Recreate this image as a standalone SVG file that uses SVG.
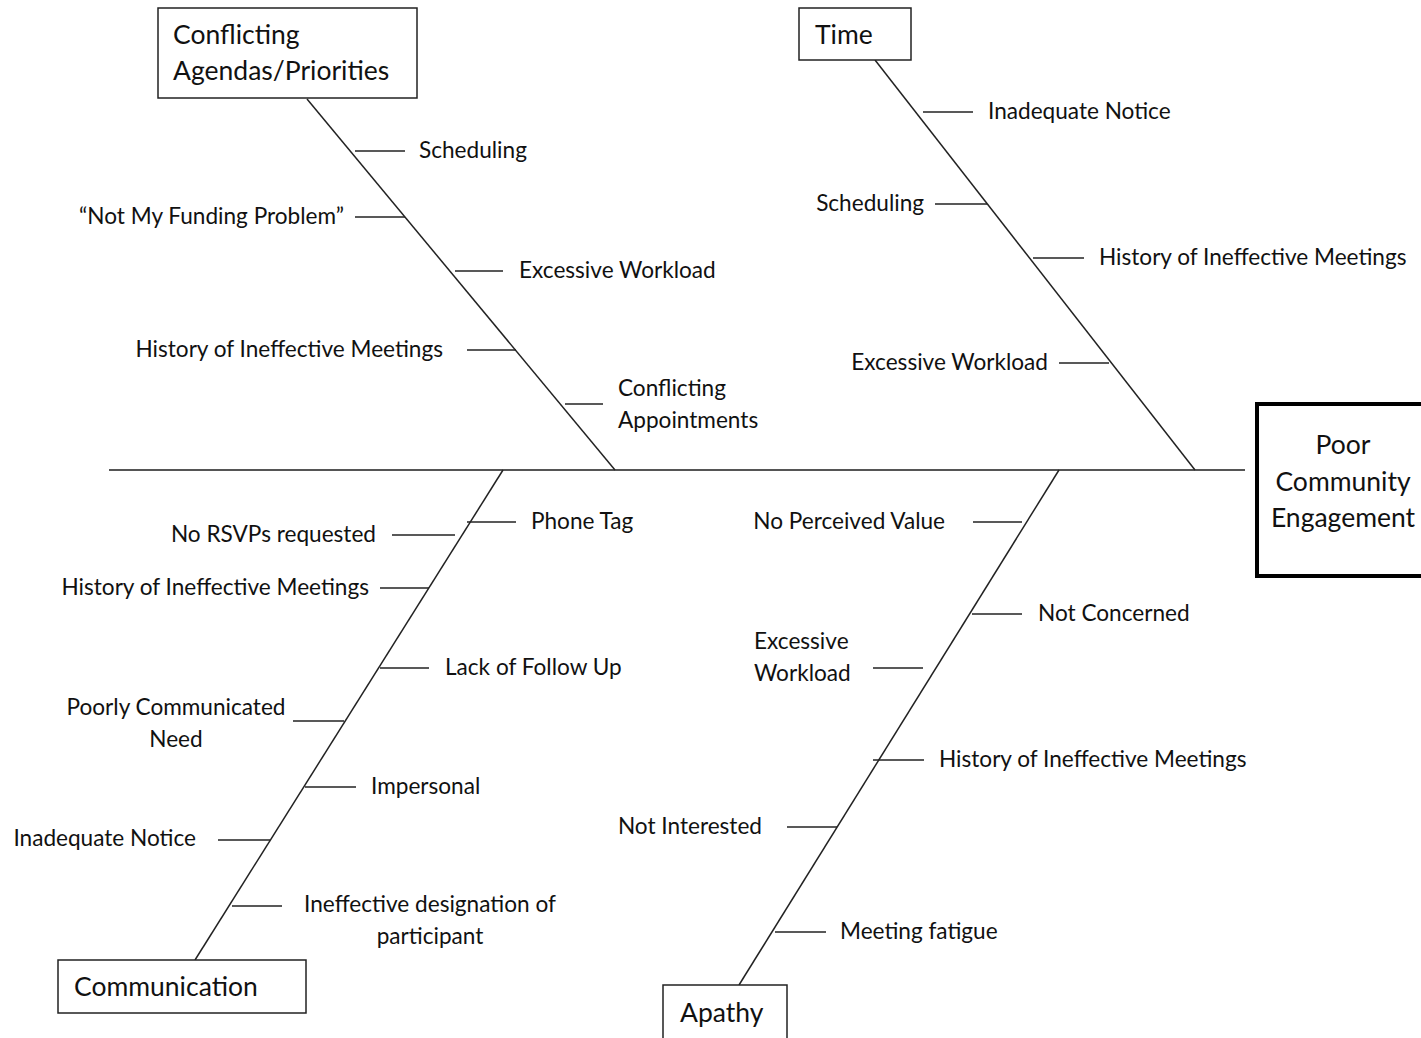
<svg xmlns="http://www.w3.org/2000/svg" width="1421" height="1038" viewBox="0 0 1421 1038">
<style>
.lbl{font-family:Lato,"Open Sans","Liberation Sans",sans-serif;font-size:22.6px;fill:#111;}
.ttl{font-family:Lato,"Open Sans","Liberation Sans",sans-serif;font-size:26.5px;fill:#111;}
.end{text-anchor:end;}
.mid{text-anchor:middle;}
.box{fill:#fff;stroke:#222;stroke-width:1.5;}
.bone{stroke:#222;stroke-width:1.5;fill:none;}
.spine{stroke:#555;stroke-width:2;fill:none;}
</style>
<rect width="1421" height="1038" fill="#fff"/>
<g id="connectors">
<line class="spine" x1="109" y1="470" x2="1245" y2="470"/>
<line class="bone" x1="307" y1="99" x2="615" y2="470"/>
<line class="bone" x1="875" y1="60" x2="1195" y2="470"/>
<line class="bone" x1="503" y1="470" x2="195" y2="960"/>
<line class="bone" x1="1059" y1="470" x2="739" y2="985"/>
<line class="bone" x1="355" y1="151" x2="405" y2="151"/>
<line class="bone" x1="355" y1="217" x2="405" y2="217"/>
<line class="bone" x1="455" y1="271" x2="503" y2="271"/>
<line class="bone" x1="467" y1="350" x2="516" y2="350"/>
<line class="bone" x1="565" y1="404" x2="603" y2="404"/>
<line class="bone" x1="923" y1="112" x2="973" y2="112"/>
<line class="bone" x1="935" y1="204" x2="987" y2="204"/>
<line class="bone" x1="1033" y1="258" x2="1084" y2="258"/>
<line class="bone" x1="1059" y1="363" x2="1109" y2="363"/>
<line class="bone" x1="467" y1="522" x2="516" y2="522"/>
<line class="bone" x1="392" y1="535" x2="455" y2="535"/>
<line class="bone" x1="380" y1="588" x2="429" y2="588"/>
<line class="bone" x1="380" y1="668" x2="429" y2="668"/>
<line class="bone" x1="293" y1="721" x2="344" y2="721"/>
<line class="bone" x1="305" y1="787" x2="356" y2="787"/>
<line class="bone" x1="218" y1="840" x2="270" y2="840"/>
<line class="bone" x1="232" y1="906" x2="282" y2="906"/>
<line class="bone" x1="973" y1="522" x2="1022" y2="522"/>
<line class="bone" x1="972" y1="614" x2="1022" y2="614"/>
<line class="bone" x1="873" y1="668" x2="923" y2="668"/>
<line class="bone" x1="873" y1="760" x2="924" y2="760"/>
<line class="bone" x1="787" y1="827" x2="837" y2="827"/>
<line class="bone" x1="775" y1="932" x2="826" y2="932"/>
</g>
<g id="node-agendas">
<rect class="box" x="158" y="8" width="259" height="90"/>
<text class="ttl" x="173" y="44">Conflicting</text>
<text class="ttl" x="173" y="80">Agendas/Priorities</text>
</g>
<g id="node-time">
<rect class="box" x="799" y="8" width="112" height="52"/>
<text class="ttl" x="815" y="44">Time</text>
</g>
<g id="node-effect">
<rect x="1257" y="404" width="170" height="172" fill="#fff" stroke="#000" stroke-width="4"/>
<text class="ttl mid" x="1343" y="454">Poor</text>
<text class="ttl mid" x="1343" y="491">Community</text>
<text class="ttl mid" x="1343" y="527">Engagement</text>
</g>
<g id="node-communication">
<rect class="box" x="58" y="960" width="248" height="53"/>
<text class="ttl" x="74" y="996">Communication</text>
</g>
<g id="node-apathy">
<rect class="box" x="663" y="985" width="124" height="60"/>
<text class="ttl" x="680" y="1022">Apathy</text>
</g>
<g id="labels">
<text class="lbl" x="419" y="158">Scheduling</text>
<text class="lbl end" x="344" y="224">“Not My Funding Problem”</text>
<text class="lbl" x="519" y="278">Excessive Workload</text>
<text class="lbl end" x="443" y="357">History of Ineffective Meetings</text>
<text class="lbl" x="618" y="396">Conflicting</text>
<text class="lbl" x="618" y="428">Appointments</text>
<text class="lbl" x="988" y="119">Inadequate Notice</text>
<text class="lbl end" x="924" y="211">Scheduling</text>
<text class="lbl" x="1099" y="265">History of Ineffective Meetings</text>
<text class="lbl end" x="1048" y="370">Excessive Workload</text>
<text class="lbl" x="531" y="529">Phone Tag</text>
<text class="lbl end" x="376" y="542">No RSVPs requested</text>
<text class="lbl end" x="369" y="595">History of Ineffective Meetings</text>
<text class="lbl" x="445" y="675">Lack of Follow Up</text>
<text class="lbl mid" x="176" y="715">Poorly Communicated</text>
<text class="lbl mid" x="176" y="747">Need</text>
<text class="lbl" x="371" y="794">Impersonal</text>
<text class="lbl end" x="196" y="846">Inadequate Notice</text>
<text class="lbl mid" x="430" y="912">Ineffective designation of</text>
<text class="lbl mid" x="430" y="944">participant</text>
<text class="lbl end" x="945" y="529">No Perceived Value</text>
<text class="lbl" x="1038" y="621">Not Concerned</text>
<text class="lbl" x="754" y="649">Excessive</text>
<text class="lbl" x="754" y="681">Workload</text>
<text class="lbl" x="939" y="767">History of Ineffective Meetings</text>
<text class="lbl end" x="762" y="834">Not Interested</text>
<text class="lbl" x="840" y="939">Meeting fatigue</text>
</g>
</svg>
